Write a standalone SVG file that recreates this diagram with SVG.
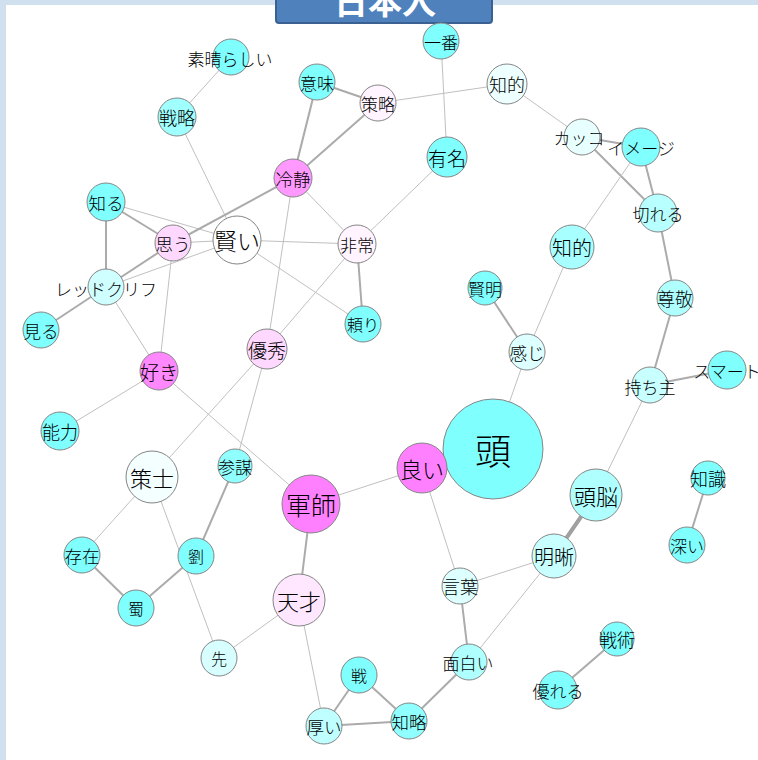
<svg xmlns="http://www.w3.org/2000/svg" width="758" height="760" viewBox="0 0 758 760">
<style>
.bg{fill:#d0e0ee}
.node circle{stroke:#858585;stroke-width:1}
.node text{font-family:"Noto Sans CJK JP","Noto Sans",sans-serif;font-weight:300;text-anchor:middle;dominant-baseline:central;fill:#000}
.t{stroke:#c0c0c0;stroke-width:1}
.m{stroke:#ababab;stroke-width:2}
.k{stroke:#a0a0a0;stroke-width:3}
.title text{font-family:"Noto Sans CJK JP","Noto Sans",sans-serif;font-weight:bold;fill:#fff;text-anchor:middle}
</style>
<rect class="bg" x="0" y="0" width="758" height="760"/>
<rect x="6" y="5" width="752" height="755" fill="#ffffff"/>
<g id="title" class="title">
<rect x="276" y="-10" width="216" height="33" rx="3" fill="#4f81bd" stroke="#3b6192" stroke-width="2"/>
<text x="385" y="14" font-size="34">日本人</text>
</g>
<g id="connectors">
<line class="t" x1="231" y1="57" x2="177" y2="117"/>
<line class="t" x1="177" y1="117" x2="237" y2="240"/>
<line class="m" x1="317" y1="82" x2="378" y2="103"/>
<line class="m" x1="317" y1="82" x2="293" y2="178"/>
<line class="m" x1="378" y1="103" x2="293" y2="178"/>
<line class="t" x1="378" y1="103" x2="507" y2="84"/>
<line class="t" x1="441" y1="41" x2="447" y2="157"/>
<line class="t" x1="447" y1="157" x2="357" y2="244"/>
<line class="t" x1="507" y1="84" x2="582" y2="137"/>
<line class="m" x1="582" y1="137" x2="641" y2="147"/>
<line class="m" x1="582" y1="137" x2="658" y2="213"/>
<line class="m" x1="641" y1="147" x2="658" y2="213"/>
<line class="t" x1="641" y1="147" x2="572" y2="247"/>
<line class="m" x1="658" y1="213" x2="675" y2="298"/>
<line class="m" x1="675" y1="298" x2="650" y2="385"/>
<line class="m" x1="650" y1="385" x2="727" y2="370"/>
<line class="t" x1="650" y1="385" x2="596" y2="495"/>
<line class="k" x1="596" y1="495" x2="554" y2="556" style="stroke-width:4"/>
<line class="t" x1="572" y1="247" x2="527" y2="352"/>
<line class="m" x1="485" y1="288" x2="527" y2="352"/>
<line class="t" x1="527" y1="352" x2="493" y2="449"/>
<line class="t" x1="422" y1="468" x2="311" y2="504"/>
<line class="t" x1="422" y1="468" x2="460" y2="586"/>
<line class="t" x1="460" y1="586" x2="554" y2="556"/>
<line class="m" x1="460" y1="586" x2="469" y2="662"/>
<line class="t" x1="554" y1="556" x2="469" y2="662"/>
<line class="m" x1="469" y1="662" x2="409" y2="721"/>
<line class="m" x1="409" y1="721" x2="359" y2="675"/>
<line class="m" x1="409" y1="721" x2="324" y2="726"/>
<line class="m" x1="359" y1="675" x2="324" y2="726"/>
<line class="t" x1="299" y1="600" x2="324" y2="726"/>
<line class="m" x1="311" y1="504" x2="299" y2="600"/>
<line class="t" x1="299" y1="600" x2="219" y2="658"/>
<line class="t" x1="219" y1="658" x2="152" y2="477"/>
<line class="t" x1="152" y1="477" x2="82" y2="555"/>
<line class="t" x1="152" y1="477" x2="267" y2="349"/>
<line class="m" x1="82" y1="555" x2="136" y2="608"/>
<line class="m" x1="136" y1="608" x2="196" y2="556"/>
<line class="m" x1="196" y1="556" x2="235" y2="466"/>
<line class="t" x1="235" y1="466" x2="267" y2="349"/>
<line class="t" x1="267" y1="349" x2="293" y2="178"/>
<line class="t" x1="267" y1="349" x2="357" y2="244"/>
<line class="t" x1="159" y1="371" x2="311" y2="504"/>
<line class="t" x1="159" y1="371" x2="60" y2="431"/>
<line class="t" x1="159" y1="371" x2="173" y2="243"/>
<line class="t" x1="159" y1="371" x2="106" y2="287"/>
<line class="m" x1="106" y1="287" x2="41" y2="330"/>
<line class="m" x1="106" y1="287" x2="106" y2="202"/>
<line class="m" x1="106" y1="287" x2="173" y2="243"/>
<line class="t" x1="106" y1="287" x2="237" y2="240"/>
<line class="m" x1="106" y1="202" x2="173" y2="243"/>
<line class="t" x1="106" y1="202" x2="237" y2="240"/>
<line class="t" x1="173" y1="243" x2="237" y2="240"/>
<line class="m" x1="173" y1="243" x2="293" y2="178"/>
<line class="t" x1="237" y1="240" x2="357" y2="244"/>
<line class="t" x1="237" y1="240" x2="363" y2="324"/>
<line class="t" x1="293" y1="178" x2="357" y2="244"/>
<line class="m" x1="357" y1="244" x2="363" y2="324"/>
<line class="m" x1="708" y1="478" x2="687" y2="545"/>
<line class="m" x1="617" y1="639" x2="558" y2="690"/>
</g>
<g id="n-subarashii" class="node"><circle cx="231" cy="57" r="18" fill="#80ffff"/><text x="230" y="58" font-size="17">素晴らしい</text></g>
<g id="n-imi" class="node"><circle cx="317" cy="82" r="18" fill="#80ffff"/><text x="317" y="82" font-size="17">意味</text></g>
<g id="n-sakuryaku" class="node"><circle cx="378" cy="103" r="18" fill="#fff4ff"/><text x="378" y="103" font-size="17">策略</text></g>
<g id="n-senryaku" class="node"><circle cx="177" cy="117" r="19" fill="#a0ffff"/><text x="177" y="117" font-size="18">戦略</text></g>
<g id="n-ichiban" class="node"><circle cx="441" cy="41" r="18" fill="#80ffff"/><text x="441" y="41" font-size="17">一番</text></g>
<g id="n-chiteki1" class="node"><circle cx="507" cy="84" r="20" fill="#eeffff"/><text x="507" y="84" font-size="18">知的</text></g>
<g id="n-yumei" class="node"><circle cx="447" cy="157" r="20" fill="#80ffff"/><text x="447" y="157" font-size="19">有名</text></g>
<g id="n-kakko" class="node"><circle cx="582" cy="137" r="18" fill="#e8ffff"/><text x="579" y="137" font-size="17">カッコ</text></g>
<g id="n-image" class="node"><circle cx="641" cy="147" r="19" fill="#80ffff"/><text x="641" y="147" font-size="17">イメージ</text></g>
<g id="n-kireru" class="node"><circle cx="658" cy="213" r="19" fill="#b8ffff"/><text x="658" y="213" font-size="17">切れる</text></g>
<g id="n-chiteki2" class="node"><circle cx="572" cy="247" r="22" fill="#a8ffff"/><text x="572" y="247" font-size="20">知的</text></g>
<g id="n-reisei" class="node"><circle cx="293" cy="178" r="19" fill="#ff99ff"/><text x="293" y="178" font-size="17.5">冷静</text></g>
<g id="n-shiru" class="node"><circle cx="106" cy="202" r="19" fill="#80ffff"/><text x="106" y="202" font-size="17.5">知る</text></g>
<g id="n-omou" class="node"><circle cx="173" cy="243" r="18" fill="#ffd8ff"/><text x="173" y="243" font-size="17.5">思う</text></g>
<g id="n-kashikoi" class="node"><circle cx="237" cy="240" r="24" fill="#ffffff"/><text x="237" y="240" font-size="23">賢い</text></g>
<g id="n-hijou" class="node"><circle cx="357" cy="244" r="19" fill="#fff4ff"/><text x="357" y="244" font-size="17">非常</text></g>
<g id="n-redcliff" class="node"><circle cx="106" cy="287" r="18" fill="#d0ffff"/><text x="106" y="288" font-size="17">レッドクリフ</text></g>
<g id="n-miru" class="node"><circle cx="41" cy="330" r="18" fill="#80ffff"/><text x="41" y="330" font-size="17.5">見る</text></g>
<g id="n-suki" class="node"><circle cx="159" cy="371" r="19" fill="#ff88ff"/><text x="159" y="371" font-size="19">好き</text></g>
<g id="n-yushu" class="node"><circle cx="267" cy="349" r="20" fill="#ffd8ff"/><text x="267" y="349" font-size="19">優秀</text></g>
<g id="n-tayori" class="node"><circle cx="363" cy="324" r="18" fill="#80ffff"/><text x="363" y="324" font-size="16">頼り</text></g>
<g id="n-nouryoku" class="node"><circle cx="60" cy="431" r="19" fill="#80ffff"/><text x="60" y="431" font-size="18">能力</text></g>
<g id="n-sakushi" class="node"><circle cx="152" cy="477" r="26" fill="#f4ffff"/><text x="152" y="477" font-size="22">策士</text></g>
<g id="n-sanbou" class="node"><circle cx="235" cy="466" r="17" fill="#90ffff"/><text x="235" y="466" font-size="17">参謀</text></g>
<g id="n-gunshi" class="node"><circle cx="311" cy="504" r="29" fill="#ff80ff"/><text x="311" y="504" font-size="25">軍師</text></g>
<g id="n-kenmei" class="node"><circle cx="485" cy="288" r="17" fill="#80ffff"/><text x="485" y="288" font-size="17">賢明</text></g>
<g id="n-kanji" class="node"><circle cx="527" cy="352" r="18" fill="#ddffff"/><text x="527" y="352" font-size="17.5">感じ</text></g>
<g id="n-atama" class="node"><circle cx="493" cy="449" r="50" fill="#80ffff"/><text x="493" y="449" font-size="36">頭</text></g>
<g id="n-yoi" class="node"><circle cx="422" cy="468" r="25" fill="#ff80ff"/><text x="422" y="468" font-size="22">良い</text></g>
<g id="n-sonkei" class="node"><circle cx="675" cy="298" r="18" fill="#b0ffff"/><text x="675" y="298" font-size="18">尊敬</text></g>
<g id="n-mochinushi" class="node"><circle cx="650" cy="385" r="18" fill="#c8ffff"/><text x="650" y="386" font-size="17">持ち主</text></g>
<g id="n-smart" class="node"><circle cx="727" cy="370" r="19" fill="#80ffff"/><text x="727" y="370" font-size="17">スマート</text></g>
<g id="n-zunou" class="node"><circle cx="596" cy="495" r="26" fill="#b0ffff"/><text x="596" y="495" font-size="22">頭脳</text></g>
<g id="n-chishiki" class="node"><circle cx="708" cy="478" r="17" fill="#80ffff"/><text x="708" y="478" font-size="18">知識</text></g>
<g id="n-sonzai" class="node"><circle cx="82" cy="555" r="18" fill="#80ffff"/><text x="82" y="555" font-size="17.5">存在</text></g>
<g id="n-ryu" class="node"><circle cx="196" cy="556" r="18" fill="#80ffff"/><text x="196" y="556" font-size="16">劉</text></g>
<g id="n-shoku" class="node"><circle cx="136" cy="608" r="18" fill="#80ffff"/><text x="136" y="608" font-size="16">蜀</text></g>
<g id="n-tensai" class="node"><circle cx="299" cy="600" r="26" fill="#ffe8ff"/><text x="299" y="600" font-size="22">天才</text></g>
<g id="n-saki" class="node"><circle cx="219" cy="658" r="18" fill="#d8ffff"/><text x="219" y="658" font-size="16">先</text></g>
<g id="n-ikusa" class="node"><circle cx="359" cy="675" r="18" fill="#80ffff"/><text x="359" y="675" font-size="16">戦</text></g>
<g id="n-atsui" class="node"><circle cx="324" cy="726" r="18" fill="#c0ffff"/><text x="324" y="726" font-size="17.5">厚い</text></g>
<g id="n-fukai" class="node"><circle cx="687" cy="545" r="18" fill="#80ffff"/><text x="687" y="545" font-size="17">深い</text></g>
<g id="n-meiseki" class="node"><circle cx="554" cy="556" r="22" fill="#c8ffff"/><text x="554" y="556" font-size="20">明晰</text></g>
<g id="n-kotoba" class="node"><circle cx="460" cy="586" r="18" fill="#ddffff"/><text x="460" y="586" font-size="18">言葉</text></g>
<g id="n-omoshiroi" class="node"><circle cx="469" cy="662" r="18" fill="#b0ffff"/><text x="468" y="662" font-size="17">面白い</text></g>
<g id="n-senjutsu" class="node"><circle cx="617" cy="639" r="17" fill="#80ffff"/><text x="617" y="639" font-size="18">戦術</text></g>
<g id="n-sugureru" class="node"><circle cx="558" cy="690" r="19" fill="#80ffff"/><text x="558" y="690" font-size="17">優れる</text></g>
<g id="n-chiryaku" class="node"><circle cx="409" cy="721" r="18" fill="#90ffff"/><text x="409" y="721" font-size="17.5">知略</text></g>
</svg>
